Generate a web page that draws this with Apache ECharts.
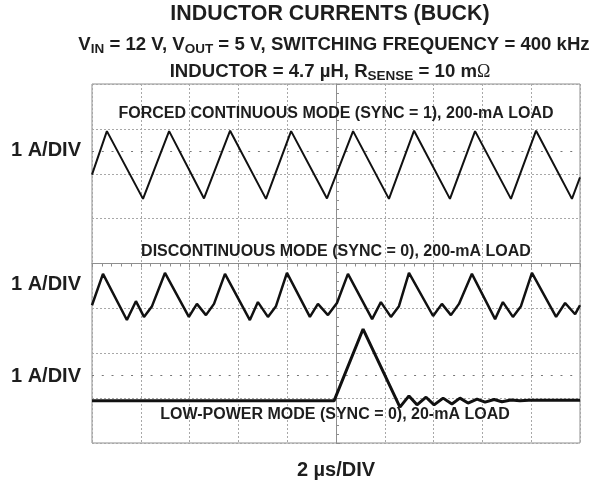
<!DOCTYPE html>
<html>
<head>
<meta charset="utf-8">
<script src="https://cdn.jsdelivr.net/npm/echarts@6/dist/echarts.min.js"></script>
<style>
html,body{margin:0;padding:0;background:#fff;}
#c{width:596px;height:483px;}
</style>
</head>
<body>
<div id="c"></div>
<script>
// Time in microseconds (trigger at centre, 2 us/div), current in screen divisions (1 A/div)
const forcedT = [-10, -9.39, -7.91, -6.84, -5.41, -4.34, -2.87, -1.84, -0.37, 0.70, 2.17, 3.20, 4.67, 5.70, 7.17, 8.20, 9.67, 10];
const forcedI = [1.98, 2.95, 1.44, 2.95, 1.45, 2.96, 1.44, 2.95, 1.45, 2.95, 1.44, 2.96, 1.44, 2.95, 1.44, 2.96, 1.44, 1.92];

const discT = [-10, -9.55, -8.57, -8.20, -7.87, -7.54, -7.01, -6.03, -5.70, -5.33, -5.00, -4.55, -3.53, -3.20, -2.79, -2.46, -2.01, -1.07, -0.74, -0.33, 0.04, 0.49, 1.48, 1.84, 2.25, 2.58, 2.99, 3.98, 4.34, 4.71, 5.04, 5.57, 6.52, 6.84, 7.25, 7.58, 8.03, 9.02, 9.39, 9.80, 10];
const discI = [-0.93, -0.23, -1.26, -0.84, -1.19, -0.95, -0.21, -1.19, -0.90, -1.15, -0.90, -0.23, -1.26, -0.86, -1.19, -0.95, -0.21, -1.19, -0.90, -1.15, -0.88, -0.23, -1.24, -0.86, -1.19, -0.95, -0.21, -1.17, -0.90, -1.15, -0.90, -0.23, -1.24, -0.86, -1.19, -0.95, -0.21, -1.19, -0.88, -1.13, -0.93];

const lowT = [-10, -0.08, 1.11, 2.62, 2.99, 3.32, 3.69, 4.02, 4.39, 4.75, 5.08, 5.41, 5.78, 6.11, 6.48, 6.80, 7.17, 7.54, 7.90, 10];
const lowI = [-3.06, -3.06, -1.46, -3.20, -2.95, -3.15, -2.98, -3.15, -3.00, -3.13, -3.00, -3.11, -3.02, -3.09, -3.03, -3.08, -3.04, -3.06, -3.05, -3.05];

const traceLabels = [
  'FORCED CONTINUOUS MODE (SYNC = 1), 200-mA LOAD',
  'DISCONTINUOUS MODE (SYNC = 0), 200-mA LOAD',
  'LOW-POWER MODE (SYNC = 0), 20-mA LOAD'
];
const scaleLabel = '1 A/DIV';
const timeLabel = '2 \u00b5s/DIV';

function zip(a, b) { return a.map((v, i) => [v, b[i]]); }

const chart = echarts.init(document.getElementById('c'), null, {renderer: 'canvas'});
const FONT = 'Liberation Sans, Arial, sans-serif';
const TXT = '#1e1e1e';
const gridColor = '#a8a8a8';

const subRich = {
  m: {fontSize: 18.6, fontWeight: 'bold', fontFamily: FONT, fill: TXT, lineHeight: 22},
  s: {fontSize: 13.5, fontWeight: 'bold', fontFamily: FONT, fill: TXT, lineHeight: 14, verticalAlign: 'bottom'},
  o: {fontSize: 18, fontWeight: 'normal', fontFamily: 'Liberation Serif, serif', fill: TXT, lineHeight: 22}
};

function label(text, x, y, size, align) {
  return {
    type: 'text', x: x, y: y, z: 100,
    style: {text: text, fill: TXT, font: 'bold ' + size + 'px ' + FONT, align: align || 'center', verticalAlign: 'middle'}
  };
}

const option = {
  animation: false,
  backgroundColor: '#fff',
  grid: {left: 92, right: 16, top: 84, bottom: 40, show: true, borderColor: '#8e8e8e', borderWidth: 1, backgroundColor: 'transparent'},
  xAxis: {
    type: 'value', min: -10, max: 10, interval: 2,
    axisLine: {show: true, onZero: true, lineStyle: {color: '#8e8e8e', width: 1}},
    axisTick: {show: true, length: 4, lineStyle: {color: '#8e8e8e'}},
    minorTick: {show: true, splitNumber: 5, length: 3, lineStyle: {color: '#8e8e8e'}},
    axisLabel: {show: false},
    splitLine: {show: true, lineStyle: {color: gridColor, type: [2, 2], width: 1}}
  },
  yAxis: {
    type: 'value', min: -4, max: 4, interval: 1,
    axisLine: {show: true, onZero: true, lineStyle: {color: '#8e8e8e', width: 1}},
    axisTick: {show: true, inside: true, length: 4, lineStyle: {color: '#8e8e8e'}},
    minorTick: {show: true, splitNumber: 5, length: 3, lineStyle: {color: '#8e8e8e'}},
    axisLabel: {show: false},
    splitLine: {show: true, lineStyle: {color: gridColor, type: [2, 2], width: 1}}
  },
  series: [
    {
      type: 'line', data: zip(forcedT, forcedI), showSymbol: false, z: 5,
      lineStyle: {color: '#111', width: 2}, silent: true,
      markLine: {
        silent: true, symbol: 'none', label: {show: false},
        lineStyle: {color: '#777', type: [2, 7.76], width: 1},
        data: [{yAxis: 2.5}, {yAxis: -2.5}]
      }
    },
    {
      type: 'line', data: zip(discT, discI), showSymbol: false, z: 5,
      lineStyle: {color: '#111', width: 2.5}, silent: true
    },
    {
      type: 'line', data: zip(lowT, lowI), showSymbol: false, z: 5,
      lineStyle: {color: '#111', width: 3}, silent: true
    }
  ],
  graphic: [
    label('INDUCTOR CURRENTS (BUCK)', 330, 14, 21.4),
    {
      type: 'text', x: 334, y: 45, z: 100,
      style: {
        text: '{m|V}{s|IN}{m| = 12 V, V}{s|OUT}{m| = 5 V, SWITCHING FREQUENCY = 400 kHz}',
        rich: subRich, align: 'center', verticalAlign: 'middle'
      }
    },
    {
      type: 'text', x: 330, y: 72, z: 100,
      style: {
        text: '{m|INDUCTOR = 4.7 \u00b5H, R}{s|SENSE}{m| = 10 m}{o|\u03a9}',
        rich: subRich, align: 'center', verticalAlign: 'middle'
      }
    },
    label(traceLabels[0], 336, 114, 16),
    label(traceLabels[1], 336, 252, 16),
    label(traceLabels[2], 335, 415, 16),
    label(scaleLabel, 11, 150, 20, 'left'),
    label(scaleLabel, 11, 284, 20, 'left'),
    label(scaleLabel, 11, 376, 20, 'left'),
    label(timeLabel, 336, 470, 20)
  ]
};
chart.setOption(option);
</script>
</body>
</html>
